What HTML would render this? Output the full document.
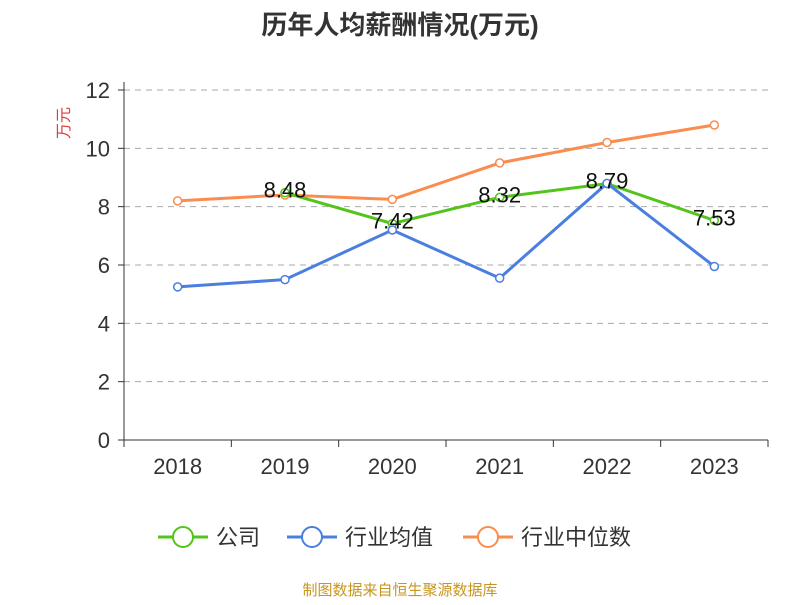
<!DOCTYPE html>
<html><head><meta charset="utf-8">
<style>
body{margin:0;background:#fff;font-family:"Liberation Sans","Noto Sans CJK SC",sans-serif;}
svg text{font-family:"Liberation Sans","Noto Sans CJK SC",sans-serif;}
</style></head>
<body>
<svg id="chart" width="800" height="600" xmlns="http://www.w3.org/2000/svg">
<text x="400" y="34" text-anchor="middle" font-size="26" font-weight="bold" fill="#333">历年人均薪酬情况(万元)</text>
<text x="0" y="0" transform="translate(69,123) rotate(-90)" text-anchor="middle" font-size="16" fill="#e03a3a">万元</text>
<g id="grid"></g>
<g id="axes"></g>
<g id="series"></g>
<g id="legend"></g>
<text x="400" y="595" text-anchor="middle" font-size="15" fill="#c8961e">制图数据来自恒生聚源数据库</text>
</svg>
<script>
const categories=["2018","2019","2020","2021","2022","2023"];
const companyValues=[null,8.48,7.42,8.32,8.79,7.53];
const industryAvgValues=[5.25,5.5,7.2,5.55,8.8,5.95];
const industryMedianValues=[8.2,8.4,8.25,9.5,10.2,10.8];
const yTicks=[0,2,4,6,8,10,12];
const NS="http://www.w3.org/2000/svg";
const x0=124,x1=768,y0=440,y1=90,yMax=12;
const band=(x1-x0)/categories.length;
const xs=i=>x0+band*(i+0.5);
const ys=v=>y0-(v/yMax)*(y0-y1);
function mk(t,a,p){const e=document.createElementNS(NS,t);for(const k in a)e.setAttribute(k,a[k]);p.appendChild(e);return e;}
const grid=document.getElementById('grid'),axes=document.getElementById('axes'),ser=document.getElementById('series'),leg=document.getElementById('legend');
yTicks.forEach(v=>{
  if(v>0){const g=mk('line',{x1:x0,x2:x1,y1:ys(v),y2:ys(v),stroke:'#aaa','stroke-dasharray':'6,5'},grid);
  
  }
  const t=mk('line',{x1:x0-6,x2:x0,y1:ys(v),y2:ys(v),stroke:'#333'},axes);
  
  
  const l=mk('text',{x:x0-14,y:ys(v)+8,'text-anchor':'end','font-size':22,fill:'#333'},axes);
  l.textContent=v;
  
  
});
const ya=mk('line',{x1:x0,x2:x0,y1:y1-8,y2:y0,stroke:'#333'},axes);


const xa=mk('line',{x1:x0,x2:x1,y1:y0,y2:y0,stroke:'#333'},axes);


for(let i=0;i<=categories.length;i++){
  const t=mk('line',{x1:x0+band*i,x2:x0+band*i,y1:y0,y2:y0+7,stroke:'#333'},axes);
  
  
}
categories.forEach((c,i)=>{
  const l=mk('text',{x:xs(i),y:474,'text-anchor':'middle','font-size':22,fill:'#333'},axes);
  l.textContent=c;
  
  
});
function drawSeries(vals,color,name){
  const pts=[];vals.forEach((v,i)=>{if(v!=null)pts.push([xs(i),ys(v),v]);});
  const p=mk('polyline',{points:pts.map(q=>q[0]+','+q[1]).join(' '),fill:'none',stroke:color,'stroke-width':3},ser);
  
  
  pts.forEach(q=>{
    const c=mk('circle',{cx:q[0],cy:q[1],r:4,fill:'#fff',stroke:color,'stroke-width':1.5},ser);
    
    
  });
  return pts;
}
drawSeries(industryMedianValues,'#fa8c4f','industry-median');
const cp=drawSeries(companyValues,'#52c41a','company');
drawSeries(industryAvgValues,'#4a7fe0','industry-average');
cp.forEach(q=>{
  const l=mk('text',{x:q[0],y:q[1]+5,'text-anchor':'middle','font-size':22,fill:'#111'},ser);
  l.textContent=q[2].toFixed(2);
  
  
});
const items=[['公司','#52c41a',158,'legend-company'],['行业均值','#4a7fe0',287,'legend-industry-average'],['行业中位数','#fa8c4f',463,'legend-industry-median']];
items.forEach(it=>{
  const g=mk('g',{},leg);
  
  
  mk('line',{x1:it[2],x2:it[2]+50,y1:537,y2:537,stroke:it[1],'stroke-width':3},g);
  mk('circle',{cx:it[2]+25,cy:537,r:10,fill:'#fff',stroke:it[1],'stroke-width':2},g);
  const t=mk('text',{x:it[2]+58,y:545,'font-size':22,fill:'#333'},g);
  t.textContent=it[0];
});
</script>
</body></html>
